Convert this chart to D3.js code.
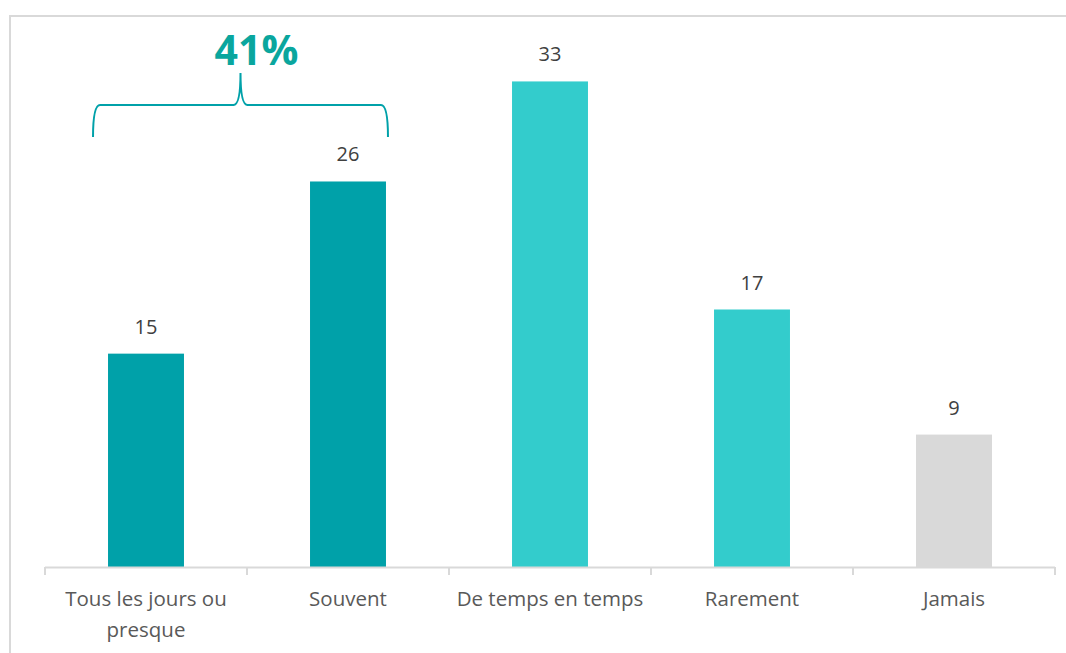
<!DOCTYPE html>
<html>
<head>
<meta charset="utf-8">
<script src="https://d3js.org/d3.v7.min.js"></script>
<style>
  body { margin: 0; background: #fff; }
  svg { display: block; }
</style>
</head>
<body>
<div id="chart"></div>
<script>
// Data
var categories = ["Tous les jours ou presque", "Souvent", "De temps en temps", "Rarement", "Jamais"];
var values = [14.5, 26.2, 33.0, 17.5, 9.0];     // bar heights as drawn
var valueLabels = ["15", "26", "33", "17", "9"]; // labels as printed
var barColors = ["#00A1A9", "#00A1A9", "#33CCCC", "#33CCCC", "#D9D9D9"];
var groupLabel = "41%";
var groupCats = ["Tous les jours ou presque", "Souvent"];

var svgWidth = 1066;
var svgHeight = 653;

var svg = d3.select("#chart")
  .append("svg")
  .attr("width", svgWidth)
  .attr("height", svgHeight);

// chart frame (runs off the right and bottom edges)
svg.append("rect")
  .attr("x", 10)
  .attr("y", 16)
  .attr("width", 1100)
  .attr("height", 700)
  .attr("fill", "none")
  .attr("stroke", "#d9d9d9")
  .attr("stroke-width", 2);

var x = d3.scaleBand()
  .domain(categories)
  .range([45, 1055])
  .paddingInner(0.624)
  .paddingOuter(0.312);

var y = d3.scaleLinear()
  .domain([0, 35])
  .range([567, 52]);

var data = categories.map(function(c, i) {
  return { cat: c, value: values[i], label: valueLabels[i], color: barColors[i] };
});

// bars
svg.selectAll("rect.bar")
  .data(data)
  .enter()
  .append("rect")
  .attr("class", "bar")
  .attr("x", d => x(d.cat))
  .attr("y", d => y(d.value))
  .attr("width", x.bandwidth())
  .attr("height", d => y(0) - y(d.value))
  .attr("fill", d => d.color);

// value labels
svg.selectAll("text.val")
  .data(data)
  .enter()
  .append("text")
  .attr("class", "val")
  .attr("x", d => x(d.cat) + x.bandwidth() / 2)
  .attr("y", d => y(d.value) - 20)
  .attr("text-anchor", "middle")
  .attr("font-family", "'Open Sans', sans-serif")
  .attr("font-size", 20)
  .attr("fill", "#404040")
  .text(d => d.label);

// x axis: line + ticks between categories
var axisG = svg.append("g");
axisG.append("line")
  .attr("x1", 45).attr("x2", 1055)
  .attr("y1", 567.5).attr("y2", 567.5)
  .attr("stroke", "#d9d9d9")
  .attr("stroke-width", 2);

var tickXs = categories.map(c => x(c) - x.step() * x.paddingOuter());
tickXs.push(1055);
axisG.selectAll("line.tick")
  .data(tickXs)
  .enter()
  .append("line")
  .attr("class", "tick")
  .attr("x1", d => d).attr("x2", d => d)
  .attr("y1", 567).attr("y2", 575)
  .attr("stroke", "#d9d9d9")
  .attr("stroke-width", 2);

// category labels, wrapped like the original
var wrapped = {
  "Tous les jours ou presque": ["Tous les jours ou", "presque"]
};
categories.forEach(function(c) {
  var lines = wrapped[c] || [c];
  var t = axisG.append("text")
    .attr("text-anchor", "middle")
    .attr("font-family", "'Open Sans', sans-serif")
    .attr("font-size", 20.5)
    .attr("fill", "#595959");
  lines.forEach(function(l, i) {
    t.append("tspan")
      .attr("x", x(c) + x.bandwidth() / 2)
      .attr("y", 606 + i * 31)
      .text(l);
  });
});

// brace over first two bars
var bx0 = x(groupCats[0]) - 15;
var bx1 = x(groupCats[1]) + x.bandwidth() + 2;
var bmid = (bx0 + bx1) / 2;
var bTop = 105, bBot = 137, bTip = 73;
var brace = d3.path();
brace.moveTo(bx0, bBot);
brace.quadraticCurveTo(bx0, bTop, bx0 + 7, bTop);
brace.lineTo(bmid - 7, bTop);
brace.quadraticCurveTo(bmid, bTop, bmid, bTip);
brace.quadraticCurveTo(bmid, bTop, bmid + 7, bTop);
brace.lineTo(bx1 - 7, bTop);
brace.quadraticCurveTo(bx1, bTop, bx1, bBot);

svg.append("path")
  .attr("d", brace.toString())
  .attr("fill", "none")
  .attr("stroke", "#00A1A9")
  .attr("stroke-width", 2);

svg.append("text")
  .attr("x", bmid + 16)
  .attr("y", 65)
  .attr("text-anchor", "middle")
  .attr("font-family", "'Open Sans', sans-serif")
  .attr("font-weight", "bold")
  .attr("font-size", 41)
  .attr("fill", "#0AA69E")
  .text(groupLabel);
</script>
</body>
</html>
